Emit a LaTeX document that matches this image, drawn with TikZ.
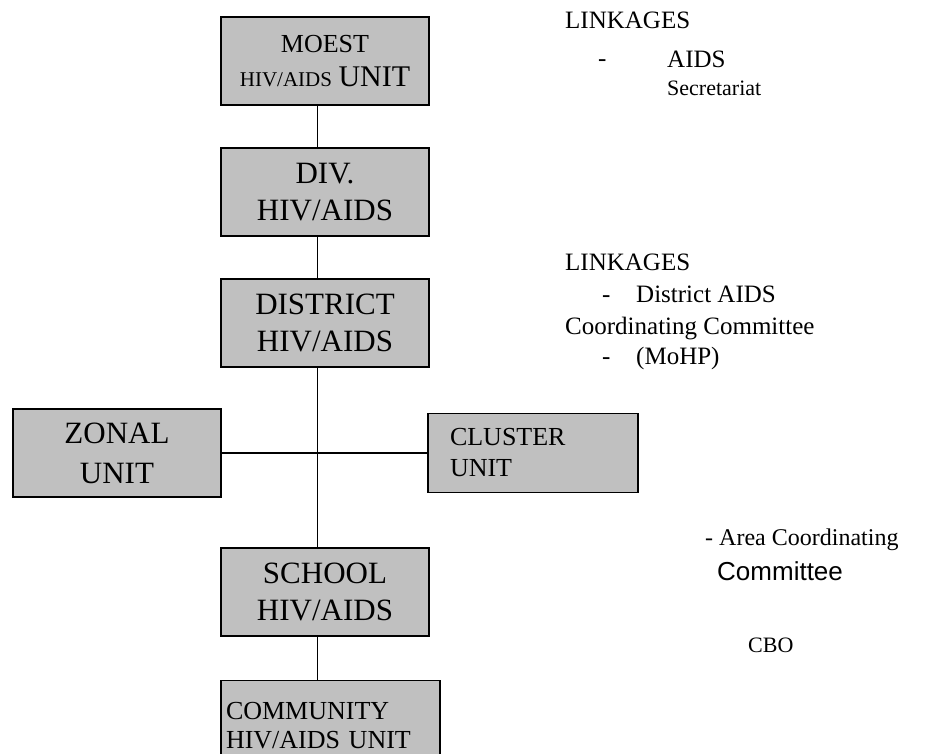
\documentclass[tikz,border=0pt]{standalone}
\usepackage{fontspec}
\setmainfont{Liberation Serif}
\newfontfamily\arialfont{Liberation Sans}
\usepackage{tikz}
\usetikzlibrary{positioning,calc}
\definecolor{boxgray}{RGB}{192,192,192}
\tikzset{
  unitbox/.style={
      draw, fill=boxgray, line width=1.3pt,
      minimum width=208pt, minimum height=88pt,
      inner sep=0pt, align=center, font=\fontsize{31}{37}\selectfont
    },
  linknote/.style={anchor=base west, inner sep=0pt, font=\fontsize{25}{30}\selectfont},
  smallnote/.style={anchor=base west, inner sep=0pt, font=\fontsize{22}{26}\selectfont}
}

\begin{document}
\begin{tikzpicture}[x=1pt, y=-1pt]
    \useasboundingbox (0,0) rectangle (929,753);
    \coordinate (spine) at (317,0); % the line of units runs here

    % Units of the ministry, top to bottom
    \node[unitbox, font=\fontsize{26}{34}\selectfont] (moest) at (325,61)
      {MOEST\\{\fontsize{21}{34}\selectfont HIV/AIDS} {\fontsize{30}{34}\selectfont UNIT}};
    \node[unitbox] (div) at (325,192) {DIV.\\HIV/AIDS};
    \node[unitbox] (district) at (325,323) {DISTRICT\\HIV/AIDS};
    \node[unitbox] (school) at (325,592) {SCHOOL\\HIV/AIDS};
    \node[unitbox, minimum width=219pt, minimum height=90pt, anchor=north,
      align=left, text width=209pt, font=\fontsize{26}{29}\selectfont] (community) at (330.5,680)
      {COMMUNITY\\HIV/AIDS UNIT};

    % Side units
    \node[unitbox, font=\fontsize{31}{40}\selectfont] (zonal) at (117,453) {ZONAL\\UNIT};
    \node[unitbox, minimum width=210pt, minimum height=79pt, align=left,
      text width=166pt, font=\fontsize{26}{31}\selectfont] (cluster) at (533,453) {CLUSTER\\UNIT};

    % Connectors
    \draw[line width=1pt] (moest.south -| spine) -- (div.north -| spine);
    \draw[line width=1pt] (div.south -| spine) -- (district.north -| spine);
    \draw[line width=1pt] (district.south -| spine) -- (school.north -| spine);
    \draw[line width=1pt] (school.south -| spine) -- (community.north -| spine);
    \draw[line width=1.3pt] (zonal.east) -- (cluster.west);

    % Linkages
    \node[linknote] (link1) at (565,28) {LINKAGES};
    \node[linknote] (dash1) at (598,66) {-};
    \node[linknote] (aids) at (667,67) {AIDS};
    \node[smallnote] (secret) at (667,95) {Secretariat};

    \node[linknote] (link2) at (565,270) {LINKAGES};
    \node[linknote] (dash2) at (602,302) {-};
    \node[linknote] (dacc) at (636,302) {District AIDS};
    \node[linknote] (coord) at (565,334) {Coordinating Committee};
    \node[linknote] (dash3) at (602,364) {-};
    \node[linknote] (mohp) at (636,364) {(MoHP)};

    \node[smallnote, font=\fontsize{24}{28}\selectfont] (area) at (705,545) {- Area Coordinating};
    \node[linknote, font=\arialfont\fontsize{26}{30}\selectfont] (areacom) at (717,580) {Committee};
    \node[smallnote] (cbo) at (748,652) {CBO};
\end{tikzpicture}
\end{document}
